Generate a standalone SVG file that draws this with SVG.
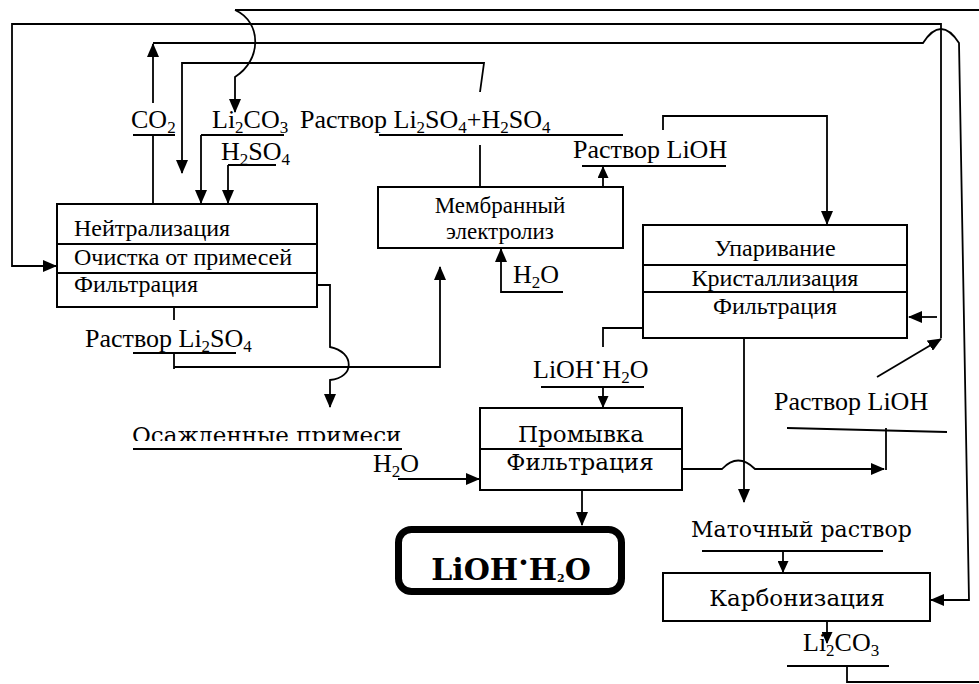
<svg xmlns="http://www.w3.org/2000/svg" width="979" height="684" viewBox="0 0 979 684">
<style>
.bx{fill:#fff;stroke:#000;stroke-width:2}
.sep{stroke:#000;stroke-width:2}
.ln{fill:none;stroke:#000;stroke-width:1.8}
.t{font-family:"Liberation Serif","Times New Roman","DejaVu Serif",serif;font-size:24px;fill:#000}
.l{font-family:"Liberation Serif","Times New Roman","DejaVu Serif",serif;font-size:26px;fill:#000}
.b{font-family:"DejaVu Serif","Liberation Serif",serif;font-size:23px;fill:#000}
.bb{font-family:"DejaVu Serif","Liberation Serif",serif;font-size:30px;font-weight:bold;fill:#000}
.sub{font-size:17px}
.mid{text-anchor:middle}
</style>
<defs>
<marker id="a" markerUnits="userSpaceOnUse" markerWidth="14" markerHeight="12" refX="13" refY="6" orient="auto"><path d="M0,0 L14,6 L0,12 z" fill="#000"/></marker>
<marker id="s" markerUnits="userSpaceOnUse" markerWidth="12" markerHeight="11" refX="11" refY="5.5" orient="auto"><path d="M0,0 L12,5.5 L0,11 z" fill="#000"/></marker>
<clipPath id="cp"><rect x="0" y="0" width="979" height="441"/></clipPath>
</defs>
<rect width="979" height="684" fill="#fff"/>

<g id="connectors" class="ln">
<path d="M235,10 H979"/>
<path d="M235,10 C262,22 262,60 235,77 V112" marker-end="url(#a)"/>
<path d="M941,338 V24 H12 V266 H56" marker-end="url(#a)"/>
<path d="M877,377 L941,339" marker-end="url(#a)"/>
<path d="M937,317 H909" marker-end="url(#a)"/>
<path d="M153,103 V44" marker-end="url(#a)"/>
<path d="M153,43 H923 Q941,15 959,43 L969,600 H931" marker-end="url(#a)"/>
<path d="M153,135 V204"/>
<path d="M133,135 H175"/>
<path d="M201,135 H284"/>
<path d="M201,135 V203" marker-end="url(#a)"/>
<path d="M228,165 H276"/>
<path d="M228,165 V203" marker-end="url(#a)"/>
<path d="M480,92 L484,63 H182 V173" marker-end="url(#a)"/>
<path d="M480,187 V145"/>
<path d="M379,135 H623"/>
<path d="M603,187 V167" marker-end="url(#s)"/>
<path d="M582,166 H726"/>
<path d="M663,130 V116 H827 V224" marker-end="url(#a)"/>
<path d="M563,292 H501 V249" marker-end="url(#a)"/>
<path d="M317,285 H330 V347 C355,352 355,378 330,380 V407" marker-end="url(#a)"/>
<path d="M174,307 V320"/>
<path d="M133,353 H236"/>
<path d="M174,353 V369"/>
<path d="M174,367 H440 V267" marker-end="url(#a)"/>
<path d="M643,328 H603"/>
<path d="M603,327 V347"/>
<path d="M541,387 H644"/>
<path d="M603,387 V407" marker-end="url(#s)"/>
<path d="M744,338 V502" marker-end="url(#a)"/>
<path d="M682,469 H722 Q738,452 755,469 H884" marker-end="url(#a)"/>
<path d="M886,428 V470"/>
<path d="M787,428 L947,432"/>
<path d="M398,479 H479" marker-end="url(#a)"/>
<path d="M133,449 H402"/>
<path d="M582,490 V525" marker-end="url(#a)"/>
<path d="M702,551 H883"/>
<path d="M783,551 V572" marker-end="url(#s)"/>
<path d="M827,621 V643" marker-end="url(#s)"/>
<path d="M787,666 H889"/>
<path d="M847,666 V682 H979"/>
</g>

<g id="n-neutralization">
<rect class="bx" x="57" y="204" width="260" height="103"/>
<line class="sep" x1="57" y1="244" x2="317" y2="244"/>
<line class="sep" x1="57" y1="273" x2="317" y2="273"/>
<text class="t" x="74" y="236">Нейтрализация</text>
<text class="t" x="74" y="265">Очистка от примесей</text>
<text class="t" x="74" y="292">Фильтрация</text>
</g>

<g id="n-membrane">
<rect class="bx" x="378" y="187" width="245" height="61"/>
<text class="t mid" x="500" y="213" style="font-size:23px">Мембранный</text>
<text class="t mid" x="500" y="239" style="font-size:23px">электролиз</text>
</g>

<g id="n-evaporation">
<rect class="bx" x="643" y="225" width="264" height="113"/>
<line class="sep" x1="643" y1="265" x2="907" y2="265"/>
<line class="sep" x1="643" y1="292" x2="907" y2="292"/>
<text class="t mid" x="775" y="256">Упаривание</text>
<text class="t mid" x="775" y="286">Кристаллизация</text>
<text class="t mid" x="775" y="314">Фильтрация</text>
</g>

<g id="n-washing">
<rect class="bx" x="480" y="408" width="202" height="82"/>
<line class="sep" x1="480" y1="449" x2="682" y2="449"/>
<text class="b mid" x="581" y="442">Промывка</text>
<text class="b mid" x="580" y="470">Фильтрация</text>
</g>

<g id="n-product">
<rect x="398.5" y="529.5" width="223" height="62" rx="13" fill="#fff" stroke="#000" stroke-width="7"/>
<text class="bb mid" x="511" y="580">LiOH<tspan dy="-7">·</tspan><tspan dy="7">H</tspan><tspan style="font-size:11px" dy="2">2</tspan><tspan dy="-2">O</tspan></text>
</g>

<g id="n-carbonization">
<rect class="bx" x="663" y="573" width="267" height="48"/>
<text class="b mid" x="797" y="606">Карбонизация</text>
</g>

<g id="labels">
<text class="l" x="131" y="128">CO<tspan class="sub" dy="5">2</tspan></text>
<text class="l" x="212" y="128">Li<tspan class="sub" dy="5">2</tspan><tspan dy="-5">CO</tspan><tspan class="sub" dy="5">3</tspan></text>
<text class="l" x="300" y="128">Раствор Li<tspan class="sub" dy="5">2</tspan><tspan dy="-5">SO</tspan><tspan class="sub" dy="5">4</tspan><tspan dy="-5">+H</tspan><tspan class="sub" dy="5">2</tspan><tspan dy="-5">SO</tspan><tspan class="sub" dy="5">4</tspan></text>
<text class="l" x="221" y="160">H<tspan class="sub" dy="5">2</tspan><tspan dy="-5">SO</tspan><tspan class="sub" dy="5">4</tspan></text>
<text class="l" x="573" y="158">Раствор LiOH</text>
<text class="l" x="513" y="283">H<tspan class="sub" dy="5">2</tspan><tspan dy="-5">O</tspan></text>
<text class="l" x="85" y="347">Раствор Li<tspan class="sub" dy="5">2</tspan><tspan dy="-5">SO</tspan><tspan class="sub" dy="5">4</tspan></text>
<text class="l" x="533" y="378">LiOH<tspan dy="-7">·</tspan><tspan dy="7">H</tspan><tspan class="sub" dy="5">2</tspan><tspan dy="-5">O</tspan></text>
<text class="l" x="774" y="410">Раствор LiOH</text>
<text class="b" x="132" y="443" clip-path="url(#cp)">Осажденные примеси</text>
<text class="l" x="373" y="472">H<tspan class="sub" dy="5">2</tspan><tspan dy="-5">O</tspan></text>
<text class="b" x="691" y="537" style="font-size:22px">Маточный раствор</text>
<text class="l" x="803" y="651">Li<tspan class="sub" dy="5">2</tspan><tspan dy="-5">CO</tspan><tspan class="sub" dy="5">3</tspan></text>
</g>
</svg>
